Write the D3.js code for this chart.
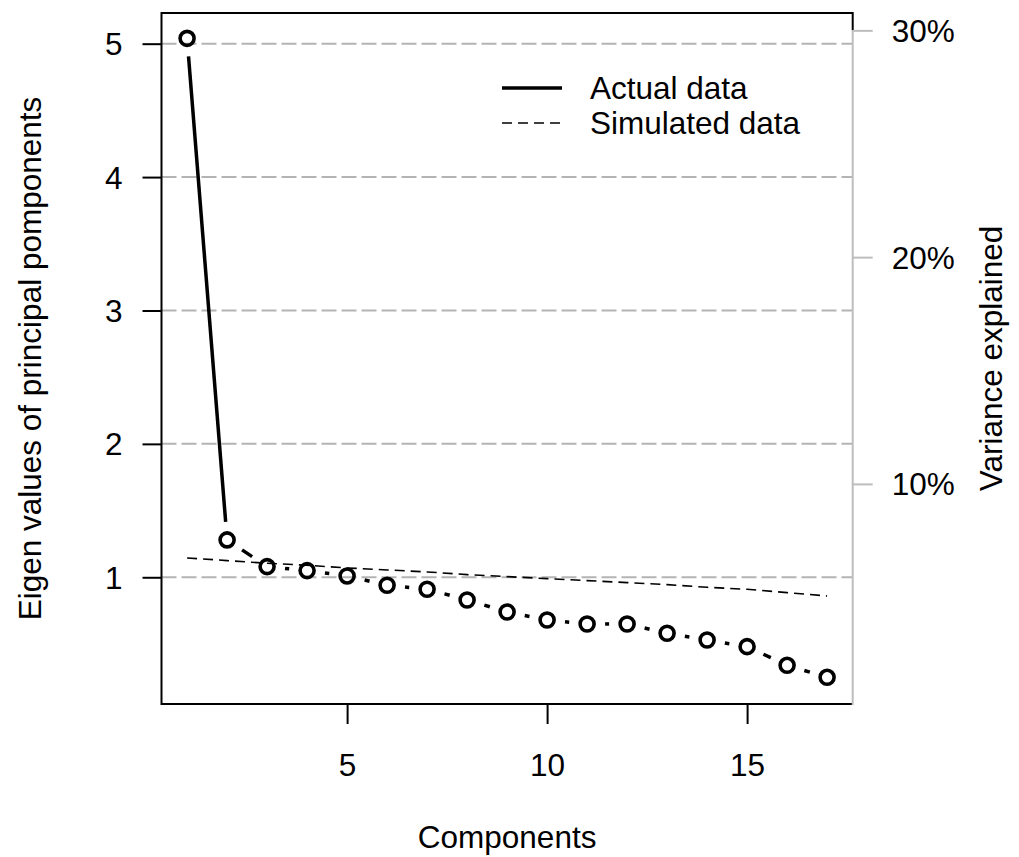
<html>
  <head>
    <meta charset="UTF-8">
    <script src="https://d3js.org/d3.v7.min.js"></script>
    <style type="text/css">
    body { margin: 0; background: #fff; font-family: 'Liberation Sans', Arial, sans-serif; }
    text { font-family: 'Liberation Sans', Arial, sans-serif; }
    </style>
  </head>
  <body>
  </body>
  <script>
    // data
    var components = [1, 2, 3, 4, 5, 6, 7, 8, 9, 10, 11, 12, 13, 14, 15, 16, 17];
    var actual = [5.04, 1.28, 1.08, 1.05, 1.01, 0.94, 0.91, 0.83, 0.74, 0.68, 0.65, 0.65, 0.58, 0.53, 0.48, 0.34, 0.25];
    var simulated = [1.145, 1.125, 1.105, 1.09, 1.07, 1.055, 1.04, 1.02, 1.005, 0.99, 0.975, 0.96, 0.945, 0.925, 0.91, 0.885, 0.86];
    var xTicks = [5, 10, 15];
    var yTicks = [1, 2, 3, 4, 5];
    var pctTicks = [10, 20, 30];
    var legendLabels = ["Actual data", "Simulated data"];

    var width = 1019, height = 857;
    var box = {left: 161.5, right: 852.7, top: 13, bottom: 704};
    var fontSize = "31.5px";

    var svg = d3.select("body").append("svg")
      .attr("width", width)
      .attr("height", height);

    var x = d3.scaleLinear().domain([0.36, 17.64]).range([box.left, box.right]);
    var y = d3.scaleLinear().domain([0.05, 5.23]).range([box.bottom, box.top]);
    var nComp = components.length;
    // variance explained = eigen value / number of components
    var yPct = function(p) { return y(p / 100 * nComp); };

    // grid lines
    svg.append("g").selectAll("line")
      .data(yTicks)
      .enter().append("line")
        .attr("x1", box.left).attr("x2", box.right)
        .attr("y1", function(d) { return y(d); })
        .attr("y2", function(d) { return y(d); })
        .attr("stroke", "#b4b4b4")
        .attr("stroke-width", 2)
        .attr("stroke-dasharray", "15,5");

    // box
    svg.append("path")
      .attr("d", "M" + box.right + "," + yPct(30) + "V" + box.top + "H" + box.left +
                 "V" + box.bottom + "H" + box.right)
      .attr("fill", "none")
      .attr("stroke", "#000")
      .attr("stroke-width", 2);
    svg.append("line")
      .attr("x1", box.right).attr("x2", box.right)
      .attr("y1", yPct(30)).attr("y2", box.bottom + 1)
      .attr("stroke", "#bdbdbd")
      .attr("stroke-width", 2);

    // left axis
    var gy = svg.append("g")
      .attr("transform", "translate(" + box.left + ",0)")
      .call(d3.axisLeft(y).tickValues(yTicks).tickSize(19).tickPadding(20).tickFormat(d3.format("d")));
    gy.select(".domain").remove();
    gy.selectAll("line").attr("stroke", "#000").attr("stroke-width", 2);
    gy.selectAll("text").style("font-size", fontSize).attr("fill", "#000").attr("dy", "0.35em");

    // bottom axis
    var gx = svg.append("g")
      .attr("transform", "translate(0," + box.bottom + ")")
      .call(d3.axisBottom(x).tickValues(xTicks).tickSize(20).tickFormat(d3.format("d")));
    gx.select(".domain").remove();
    gx.selectAll("line").attr("stroke", "#000").attr("stroke-width", 2);
    gx.selectAll("text").style("font-size", fontSize).attr("fill", "#000")
      .attr("y", 776 - box.bottom).attr("dy", 0);

    // right axis (variance explained)
    var gr = svg.append("g")
      .attr("transform", "translate(" + box.right + ",0)")
      .call(d3.axisRight(d3.scaleLinear().domain([0, 30]).range([yPct(0), yPct(30)]))
        .tickValues(pctTicks).tickSize(20).tickPadding(19)
        .tickFormat(function(d) { return d + "%"; }));
    gr.select(".domain").remove();
    gr.selectAll("line").attr("stroke", "#bdbdbd").attr("stroke-width", 2);
    gr.selectAll("text").style("font-size", fontSize).attr("fill", "#000").attr("dy", "0.35em");

    // axis titles
    svg.append("text")
      .attr("transform", "translate(" + ((box.left + box.right) / 2) + ",848)")
      .attr("text-anchor", "middle")
      .style("font-size", fontSize)
      .text("Components");
    svg.append("text")
      .attr("transform", "translate(41," + ((box.top + box.bottom) / 2) + ") rotate(-90)")
      .attr("text-anchor", "middle")
      .style("font-size", fontSize)
      .text("Eigen values of principal pomponents");
    svg.append("text")
      .attr("transform", "translate(1002," + ((box.top + box.bottom) / 2) + ") rotate(-90)")
      .attr("text-anchor", "middle")
      .style("font-size", fontSize)
      .text("Variance explained");

    // simulated data
    svg.append("path")
      .datum(components)
      .attr("fill", "none")
      .attr("stroke", "#000")
      .attr("stroke-width", 1.6)
      .attr("stroke-dasharray", "10,6")
      .attr("d", d3.line()
        .x(function(d) { return x(d); })
        .y(function(d, i) { return y(simulated[i]); }));

    // actual data: lines with gaps around points (type "b")
    var gap = 18;
    var segs = [];
    for (var i = 0; i < nComp - 1; i++) {
      var x0 = x(components[i]), y0 = y(actual[i]);
      var x1 = x(components[i + 1]), y1 = y(actual[i + 1]);
      var len = Math.sqrt((x1 - x0) * (x1 - x0) + (y1 - y0) * (y1 - y0));
      if (len <= 2 * gap) continue;
      var ux = (x1 - x0) / len, uy = (y1 - y0) / len;
      segs.push([x0 + ux * gap, y0 + uy * gap, x1 - ux * gap, y1 - uy * gap]);
    }
    svg.append("g").selectAll("line")
      .data(segs)
      .enter().append("line")
        .attr("x1", function(d) { return d[0]; })
        .attr("y1", function(d) { return d[1]; })
        .attr("x2", function(d) { return d[2]; })
        .attr("y2", function(d) { return d[3]; })
        .attr("stroke", "#000")
        .attr("stroke-width", 3.5);

    svg.append("g").selectAll("circle")
      .data(components)
      .enter().append("circle")
        .attr("cx", function(d) { return x(d); })
        .attr("cy", function(d, i) { return y(actual[i]); })
        .attr("r", 7)
        .attr("fill", "none")
        .attr("stroke", "#000")
        .attr("stroke-width", 3.6);

    // legend
    var legend = svg.append("g");
    var legendY = [88, 123];
    legend.selectAll("line")
      .data(legendLabels)
      .enter().append("line")
        .attr("x1", 502).attr("x2", 562)
        .attr("y1", function(d, i) { return legendY[i]; })
        .attr("y2", function(d, i) { return legendY[i]; })
        .attr("stroke", "#000")
        .attr("stroke-width", function(d, i) { return i == 0 ? 3.5 : 1.6; })
        .attr("stroke-dasharray", function(d, i) { return i == 0 ? null : "10,6"; });
    legend.selectAll("text")
      .data(legendLabels)
      .enter().append("text")
        .attr("x", 590)
        .attr("y", function(d, i) { return legendY[i]; })
        .attr("dy", "0.35em")
        .style("font-size", fontSize)
        .text(function(d) { return d; });
  </script>
</html>
